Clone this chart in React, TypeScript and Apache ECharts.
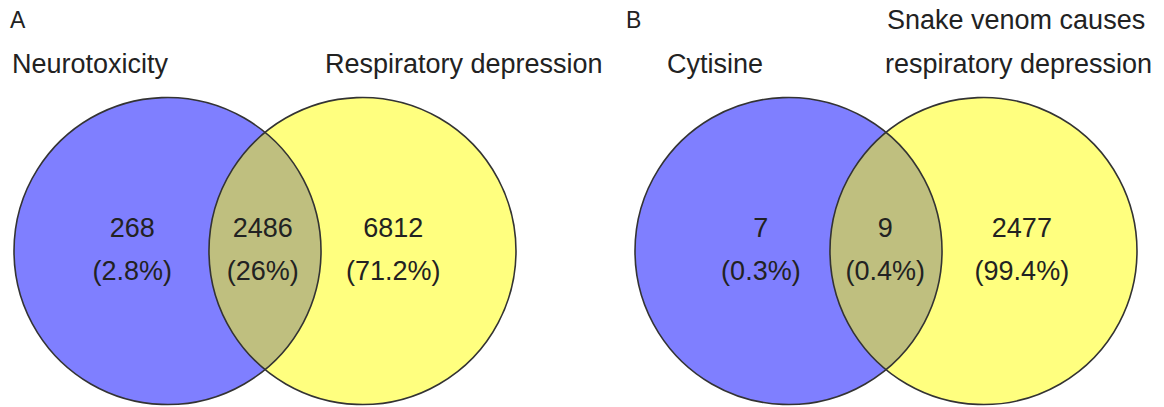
import React, { useEffect, useRef } from "react";
import * as echarts from "echarts";

// ---- data ----
const panelLetters = ["A", "B"];
const setNamesA = ["Neurotoxicity", "Respiratory depression"];
const setNamesB = ["Cytisine", "Snake venom causes", "respiratory depression"];
const countsA = [268, 2486, 6812];
const percentsA = ["2.8%", "26%", "71.2%"];
const countsB = [7, 9, 2477];
const percentsB = ["0.3%", "0.4%", "99.4%"];

// ---- layout (circle-radius units: radius 1, left centre at 0) ----
const centreDistance = 1.27;
const labelXA = [-0.23, 0.62, 1.47];
const labelXB = [-0.18, 0.63, 1.52];

const FONT = '"Liberation Sans", Arial, Helvetica, sans-serif';
const TEXT = "#222222";
const FILLS = ["rgba(0,0,255,0.5)", "rgba(255,255,0,0.5)"];
const SIZE = 27;

function circleSeries(gridIdx: number) {
  const data = [
    [0, 0],
    [centreDistance, 0],
  ];
  return [
    {
      type: "custom",
      xAxisIndex: gridIdx,
      yAxisIndex: gridIdx,
      silent: true,
      clip: false,
      data,
      renderItem: (params: any, api: any) => {
        const c = api.coord([api.value(0), api.value(1)]);
        const s = api.size([1, 1]);
        return {
          type: "circle",
          shape: { cx: c[0], cy: c[1], r: s[0] },
          style: { fill: FILLS[params.dataIndex], stroke: "none" },
        };
      },
    },
    {
      type: "custom",
      xAxisIndex: gridIdx,
      yAxisIndex: gridIdx,
      silent: true,
      clip: false,
      data,
      renderItem: (params: any, api: any) => {
        const c = api.coord([api.value(0), api.value(1)]);
        const s = api.size([1, 1]);
        return {
          type: "circle",
          shape: { cx: c[0], cy: c[1], r: s[0] },
          style: { fill: "none", stroke: "#333333", lineWidth: 1.6 },
        };
      },
    },
  ];
}

function labelSeries(gridIdx: number, xs: number[], counts: number[], pcts: string[]) {
  return {
    type: "custom",
    xAxisIndex: gridIdx,
    yAxisIndex: gridIdx,
    silent: true,
    clip: false,
    data: xs.map((x, i) => [x, 0, counts[i]]),
    renderItem: (params: any, api: any) => {
      const c = api.coord([api.value(0), api.value(1)]);
      const i = params.dataIndex;
      return {
        type: "group",
        children: [
          {
            type: "text",
            x: c[0],
            y: c[1] - 23,
            style: {
              text: String(counts[i]),
              font: `${SIZE}px ${FONT}`,
              fill: TEXT,
              align: "center",
              verticalAlign: "middle",
            },
          },
          {
            type: "text",
            x: c[0],
            y: c[1] + 20,
            style: {
              text: `(${pcts[i]})`,
              font: `${SIZE}px ${FONT}`,
              fill: TEXT,
              align: "center",
              verticalAlign: "middle",
            },
          },
        ],
      };
    },
  };
}

function txt(text: string, x: number, y: number, size: number) {
  return {
    type: "text",
    x,
    y,
    silent: true,
    style: {
      text,
      font: `${size}px ${FONT}`,
      fill: TEXT,
      align: "left",
      verticalAlign: "middle",
    },
  };
}

export default function App() {
  const ref = useRef<HTMLDivElement>(null);
  useEffect(() => {
    if (!ref.current) return;
    const chart = echarts.init(ref.current, null, { renderer: "svg" });
    const axisCommon = { type: "value", show: false };
    chart.setOption({
      animation: false,
      backgroundColor: "#ffffff",
      grid: [
        { left: 14, top: 98, width: 502, height: 306 },
        { left: 635, top: 98, width: 502, height: 306 },
      ],
      xAxis: [
        { ...axisCommon, gridIndex: 0, min: -1, max: 1 + centreDistance },
        { ...axisCommon, gridIndex: 1, min: -1, max: 1 + centreDistance },
      ],
      yAxis: [
        { ...axisCommon, gridIndex: 0, min: -1, max: 1 },
        { ...axisCommon, gridIndex: 1, min: -1, max: 1 },
      ],
      graphic: [
        txt(panelLetters[0], 10, 20, 23),
        txt(setNamesA[0], 12, 64, SIZE),
        txt(setNamesA[1], 325, 64, SIZE),
        txt(panelLetters[1], 626, 20, 23),
        txt(setNamesB[0], 667, 64, SIZE),
        txt(setNamesB[1], 887, 20, SIZE),
        txt(setNamesB[2], 885, 64, SIZE),
      ],
      series: [
        ...circleSeries(0),
        labelSeries(0, labelXA, countsA, percentsA),
        ...circleSeries(1),
        labelSeries(1, labelXB, countsB, percentsB),
      ],
    });
    return () => chart.dispose();
  }, []);
  return (
    <div
      ref={ref}
      style={{ position: "fixed", left: 0, top: 0, width: 1164, height: 407, background: "#fff" }}
    />
  );
}
